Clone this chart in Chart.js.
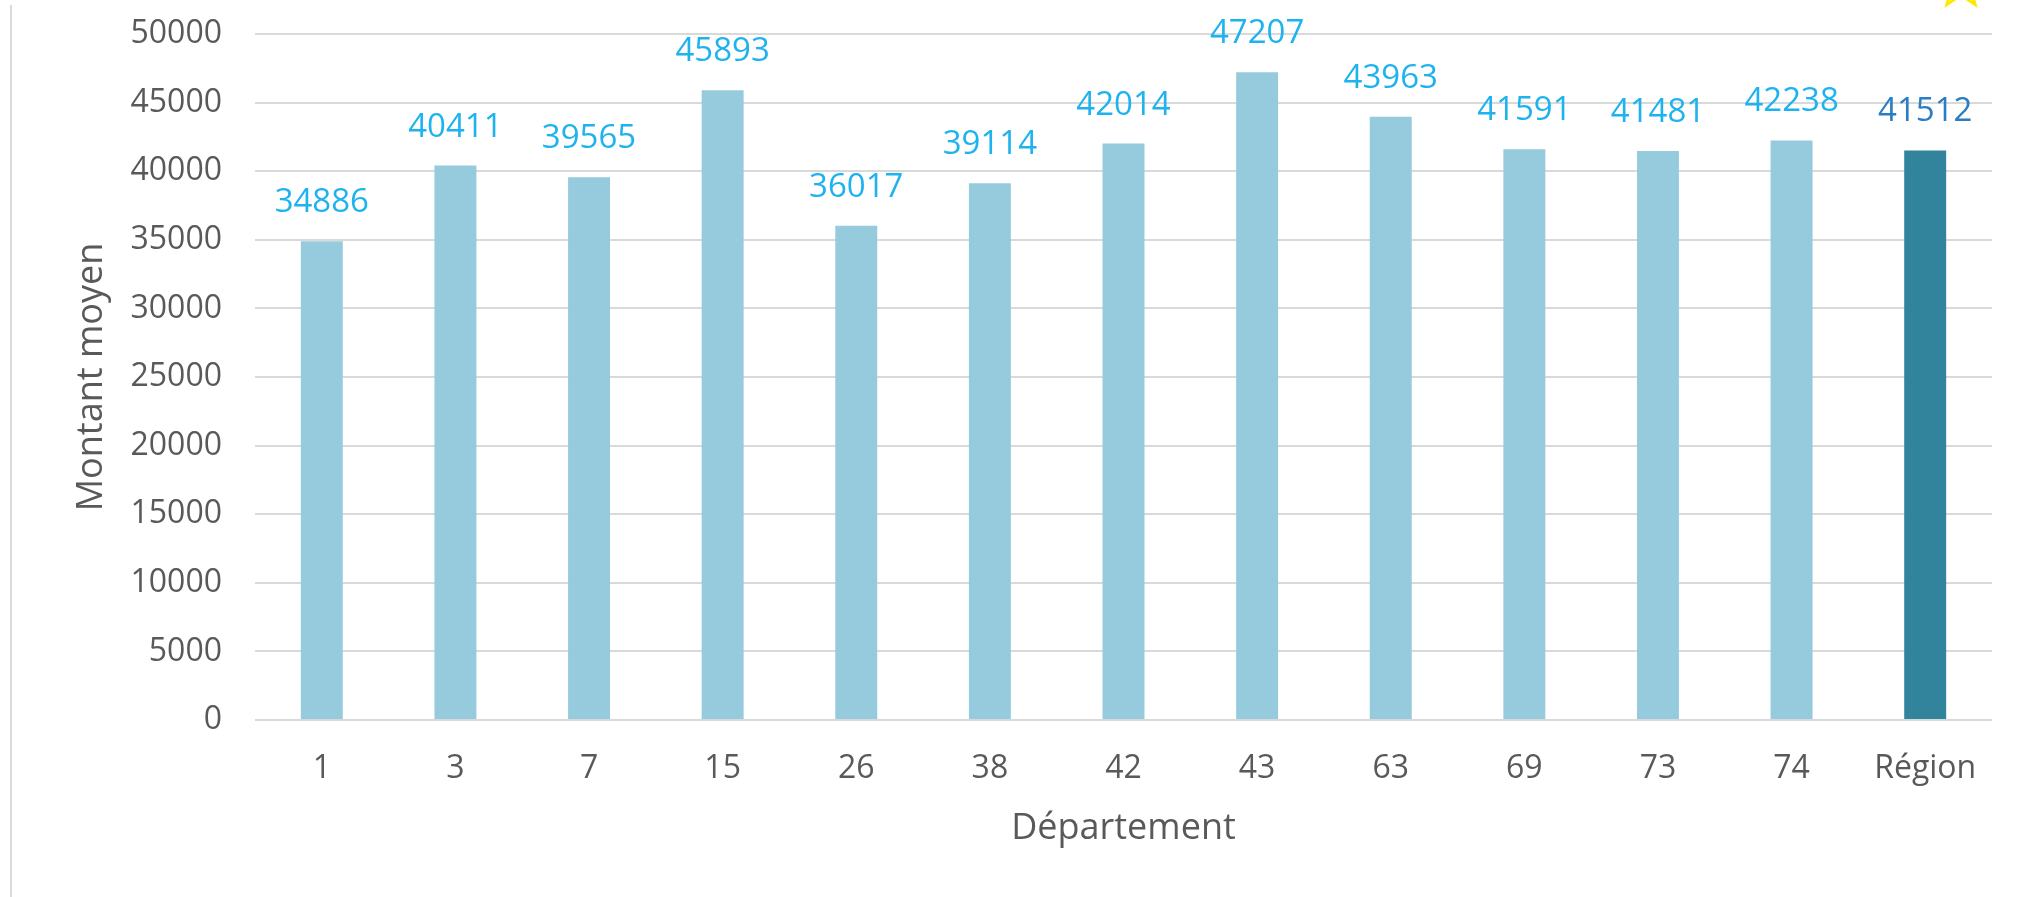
<!DOCTYPE html>
<html>
<head>
<meta charset="utf-8">
<script src="https://cdn.jsdelivr.net/npm/chart.js@4"></script>
<style>
  html, body { margin: 0; padding: 0; background: #ffffff; }
  #wrap { position: relative; width: 2030px; height: 897px; }
</style>
</head>
<body>
<div id="wrap"><canvas id="c"></canvas></div>
<script>
// ---- data ----
const categories = ['1', '3', '7', '15', '26', '38', '42', '43', '63', '69', '73', '74', 'Région'];
const montantMoyen = [34886, 40411, 39565, 45893, 36017, 39114, 42014, 47207, 43963, 41591, 41481, 42238, 41512];
const yTickValues = [0, 5000, 10000, 15000, 20000, 25000, 30000, 35000, 40000, 45000, 50000];
const xTitle = 'Département';
const yTitle = 'Montant moyen';

// ---- styles ----
const lightBar = '#95CBDC';
const darkBar = '#31849B';
const lightLabel = '#1EB3EF';
const darkLabel = '#2A7DC2';
const axisText = '#595959';
const gridColor = '#D9D9D9';
const FONT = "'Open Sans', 'DejaVu Sans', sans-serif";

const barColors = categories.map(c => c === 'Région' ? darkBar : lightBar);
const labelColors = categories.map(c => c === 'Région' ? darkLabel : lightLabel);

const valueLabels = {
  id: 'valueLabels',
  afterDatasetsDraw(chart) {
    const ctx = chart.ctx;
    const meta = chart.getDatasetMeta(0);
    ctx.save();
    ctx.font = "33px " + FONT;
    ctx.textAlign = 'center';
    ctx.textBaseline = 'alphabetic';
    meta.data.forEach((bar, i) => {
      ctx.fillStyle = labelColors[i];
      ctx.fillText(String(chart.data.datasets[0].data[i]), bar.x, bar.y - 29);
    });
    ctx.restore();
  }
};

const decorations = {
  id: 'decorations',
  beforeDraw(chart) {
    const ctx = chart.ctx;
    ctx.save();
    ctx.fillStyle = '#ffffff';
    ctx.fillRect(0, 0, chart.width, chart.height);
    // left frame line
    ctx.fillStyle = gridColor;
    ctx.fillRect(10, 5, 2, chart.height - 5);
    // partial star at top right
    const cx = 1961, cy = -15, ro = 24, ri = 10;
    ctx.beginPath();
    for (let k = 0; k < 10; k++) {
      const r = k % 2 === 0 ? ro : ri;
      const a = -Math.PI / 2 + k * Math.PI / 5;
      const px = cx + r * Math.cos(a), py = cy + r * Math.sin(a);
      if (k === 0) ctx.moveTo(px, py); else ctx.lineTo(px, py);
    }
    ctx.closePath();
    ctx.fillStyle = '#FFFDE0';
    ctx.fill();
    ctx.strokeStyle = '#FFE800';
    ctx.lineWidth = 3;
    ctx.stroke();
    ctx.restore();
  }
};

new Chart(document.getElementById('c'), {
  type: 'bar',
  data: {
    labels: categories,
    datasets: [{
      data: montantMoyen,
      backgroundColor: barColors,
      borderWidth: 0,
      categoryPercentage: 1.0,
      barPercentage: 0.314
    }]
  },
  options: {
    responsive: true,
    maintainAspectRatio: false,
    animation: false,
    events: [],
    layout: { padding: { left: 20, right: 38, top: 34, bottom: 0 } },
    plugins: {
      legend: { display: false },
      tooltip: { enabled: false },
      title: { display: false }
    },
    scales: {
      x: {
        grid: { display: false, drawTicks: false },
        border: { display: false },
        ticks: {
          color: axisText,
          font: { family: FONT, size: 32 },
          padding: 30,
          maxRotation: 0,
          autoSkip: false
        },
        title: {
          display: true,
          text: xTitle,
          color: axisText,
          font: { family: FONT, size: 36 },
          padding: { top: 0, bottom: 47 }
        },
        afterFit(scale) { scale.height = 177; }
      },
      y: {
        min: 0,
        max: 50000,
        afterBuildTicks(scale) { scale.ticks = yTickValues.map(v => ({ value: v })); },
        grid: { color: gridColor, lineWidth: 2, drawTicks: false },
        border: { display: false },
        ticks: {
          color: axisText,
          font: { family: FONT, size: 32 },
          padding: 33,
          callback: v => String(v)
        },
        title: {
          display: true,
          text: yTitle,
          color: axisText,
          font: { family: FONT, size: 36 },
          padding: { top: 50, bottom: 0 }
        },
        afterFit(scale) {
          scale.width = 235;
          scale.paddingTop = 0;
          scale.paddingBottom = 0;
        }
      }
    }
  },
  plugins: [decorations, valueLabels]
});
</script>
</body>
</html>
